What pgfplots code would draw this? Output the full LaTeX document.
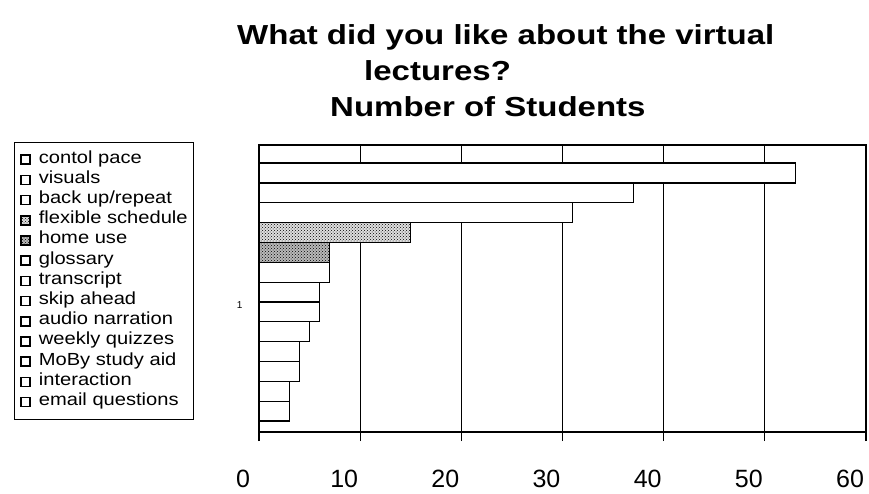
\documentclass[border=0pt]{standalone}
\usepackage{pgfplots}
\pgfplotsset{compat=1.18}
\usepackage{fontspec}
\setmainfont{Liberation Sans}
\usetikzlibrary{patterns}
\newcommand\LE[1]{\hspace{8pt}\scalebox{1.15}[1]{#1}}
\begin{document}
\begin{tikzpicture}
\useasboundingbox (0,0) rectangle (869pt,493pt);
\begin{axis}[
  at={(259pt,61pt)}, anchor=south west,
  scale only axis, width=607pt, height=287pt,
  xbar, bar width=1, bar shift=0pt,
  legend image code/.code={\draw[#1, line width=1.5pt] (0pt,-4.5pt) rectangle (9pt,4.5pt);},
  xmin=0, xmax=60, ymin=-0.05, ymax=14.41,
  xtick={0,10,...,60},
  xtick pos=bottom,
  ytick={6.35}, yticklabels={1},
  ytick style={draw=none},
  tick align=outside,
  xtick style={black, line width=1.2pt},
  major tick length=9pt,
  xmajorgrids, grid style={black, line width=1.1pt},
  axis line style={line width=1.3pt},
  /pgf/number format/assume math mode=true,
  xticklabel style={font=\fontsize{25}{25}\selectfont, inner sep=0pt, anchor=north, yshift=-29pt, xshift=-16pt},
  yticklabel style={font=\fontsize{10}{10}\selectfont, xshift=-4pt},
  legend style={at={(axis description cs:-0.404,1.0105)}, anchor=north west, draw=black, line width=1.2pt, inner xsep=6pt, inner ysep=7pt, row sep=0pt, font=\fontsize{17.5}{17.5}\selectfont, nodes={inner sep=0pt, text height=13.5pt, text depth=6.7pt, anchor=west}},
  legend cell align=left,
  mybar/.style={draw=black, line width=1.2pt},
]
\addplot[mybar, fill=white] coordinates {(53,13)};
\addplot[mybar, fill=white] coordinates {(37,12)};
\addplot[mybar, fill=white] coordinates {(31,11)};
\addplot[mybar, fill=gray!25, postaction={pattern=crosshatch dots}] coordinates {(15,10)};
\addplot[mybar, fill=gray!55, postaction={pattern=crosshatch dots}] coordinates {(7,9)};
\addplot[mybar, fill=white] coordinates {(7,8)};
\addplot[mybar, fill=white] coordinates {(6,7)};
\addplot[mybar, fill=white] coordinates {(6,6)};
\addplot[mybar, fill=white] coordinates {(5,5)};
\addplot[mybar, fill=white] coordinates {(4,4)};
\addplot[mybar, fill=white] coordinates {(4,3)};
\addplot[mybar, fill=white] coordinates {(3,2)};
\addplot[mybar, fill=white] coordinates {(3,1)};
\legend{\LE{contol pace},\LE{visuals},\LE{back up/repeat},\LE{flexible schedule},\LE{home use},\LE{glossary},\LE{transcript},\LE{skip ahead},\LE{audio narration},\LE{weekly quizzes},\LE{MoBy study aid},\LE{interaction},\LE{email questions}}
\end{axis}
\node[anchor=base west, font=\fontsize{27.5}{27.5}\selectfont\bfseries, inner sep=0pt] at (237pt,448pt) {\scalebox{1.2}[1]{What did you like about the virtual}};
\node[anchor=base west, font=\fontsize{27.5}{27.5}\selectfont\bfseries, inner sep=0pt] at (364pt,412pt) {\scalebox{1.2}[1]{lectures?}};
\node[anchor=base west, font=\fontsize{27.5}{27.5}\selectfont\bfseries, inner sep=0pt] at (330pt,376pt) {\scalebox{1.2}[1]{Number of Students}};
\end{tikzpicture}
\end{document}
